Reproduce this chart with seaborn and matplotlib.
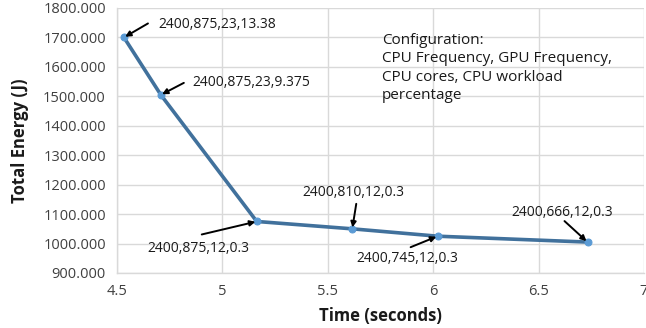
import matplotlib
matplotlib.use("Agg")
import matplotlib.pyplot as plt
import seaborn as sns
import pandas as pd

# Measured runs: execution time vs. total energy for each configuration
time_s = [4.533, 4.708, 5.163, 5.616, 6.021, 6.732]
energy_j = [1700, 1505, 1075, 1050, 1025, 1005]
configs = ["2400,875,23,13.38", "2400,875,23,9.375", "2400,875,12,0.3",
           "2400,810,12,0.3", "2400,745,12,0.3", "2400,666,12,0.3"]
y_ticks = [900, 1000, 1100, 1200, 1300, 1400, 1500, 1600, 1700, 1800]
x_ticks = [4.5, 5, 5.5, 6, 6.5, 7]

df = pd.DataFrame({"time": time_s, "energy": energy_j})

sns.set_theme(style="white")
plt.rcParams["font.family"] = ["Open Sans", "DejaVu Sans"]

fig = plt.figure(figsize=(6.46, 3.28), dpi=100)
ax = fig.add_axes([117 / 646, 1 - 273 / 328, (644 - 117) / 646, (273 - 8) / 328])

sns.lineplot(data=df, x="time", y="energy", ax=ax, color="#41719C", linewidth=2.6,
             marker="o", markersize=5, markerfacecolor="#5B9BD5",
             markeredgecolor="#5B9BD5", sort=False, zorder=3)

ax.set_xlim(4.5, 7)
ax.set_ylim(900, 1800)
ax.set_xticks(x_ticks)
ax.set_xticklabels([f"{t:g}" for t in x_ticks], fontsize=10.5, color="#404040")
ax.set_yticks(y_ticks)
ax.set_yticklabels([f"{v:.3f}" for v in y_ticks], fontsize=10.5, color="#404040")
ax.tick_params(axis="both", length=0, pad=8)
ax.grid(True, color="#D9D9D9", linewidth=1)
for side in ["top", "right"]:
    ax.spines[side].set_visible(False)
for side in ["left", "bottom"]:
    ax.spines[side].set_color("#D9D9D9")
    ax.spines[side].set_linewidth(1)

ax.set_xlabel("Time (seconds)", fontsize=12, fontweight="bold", color="#1a1a1a", labelpad=6)
ax.set_ylabel("Total Energy (J)", fontsize=12, fontweight="bold", color="#1a1a1a", labelpad=10)

# Label offsets (pixels) and arrow tail offsets relative to each point
text_off = [(34, 13), (32, 12), (-109, -27), (-50, 36), (-81, -22), (-76, 30)]
tail_off = [(24, 14), (23, 12), (-55, -13), (4, 25), (-27, -11), (-23, 21)]

for x, y, lab, (tx, ty), (ax_, ay_) in zip(time_s, energy_j, configs, text_off, tail_off):
    ax.annotate("", xy=(x, y), xytext=(ax_, ay_), textcoords="offset pixels",
                arrowprops=dict(arrowstyle="-|>", color="black", lw=1.4,
                                mutation_scale=8, shrinkA=0, shrinkB=1), zorder=4)
    ax.annotate(lab, xy=(x, y), xytext=(tx, ty), textcoords="offset pixels",
                ha="left", va="center", fontsize=10, color="#1a1a1a", zorder=5)

fig.text(382 / 646, 1 - 33 / 328,
         "Configuration:\nCPU Frequency, GPU Frequency,\nCPU cores, CPU workload\npercentage",
         ha="left", va="top", fontsize=11, color="#1a1a1a", linespacing=1.3,
         transform=fig.transFigure)

fig.savefig("out.png", dpi=100)
